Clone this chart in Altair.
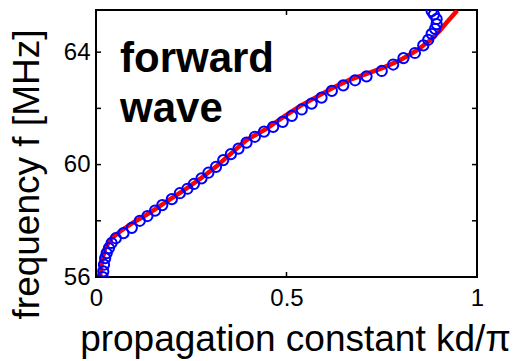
import altair as alt
import pandas as pd

# measured (blue circles)
meas_k = [0.0175, 0.019, 0.021, 0.024, 0.028, 0.034, 0.041, 0.052, 0.072, 0.094,
          0.115, 0.135, 0.155, 0.174, 0.199, 0.22, 0.24, 0.257, 0.277, 0.295,
          0.315, 0.334, 0.354, 0.374, 0.395, 0.417, 0.441, 0.465, 0.49, 0.514,
          0.54, 0.566, 0.592, 0.619, 0.649, 0.68, 0.71, 0.75, 0.78, 0.807,
          0.837, 0.859, 0.872, 0.881, 0.89, 0.894, 0.894, 0.887, 0.881]
meas_f = [56.0, 56.2, 56.44, 56.67, 56.85, 57.03, 57.21, 57.38, 57.56, 57.75,
          58.0, 58.17, 58.36, 58.56, 58.77, 58.98, 59.14, 59.31, 59.51, 59.71,
          59.92, 60.16, 60.37, 60.57, 60.78, 60.99, 61.17, 61.34, 61.52, 61.73,
          61.96, 62.17, 62.38, 62.62, 62.82, 63.0, 63.14, 63.33, 63.56, 63.79,
          63.97, 64.24, 64.44, 64.65, 64.83, 65.0, 65.18, 65.34, 65.46]

# theory (red curve)
theo_k = [0.0105, 0.015, 0.024, 0.041, 0.063, 0.098, 0.142, 0.185, 0.229, 0.273,
          0.317, 0.36, 0.395, 0.448, 0.492, 0.535, 0.579, 0.623, 0.667, 0.71,
          0.754, 0.798, 0.842, 0.877, 0.903, 0.925, 0.948]
theo_f = [56.0, 56.5, 57.03, 57.38, 57.62, 57.94, 58.29, 58.68, 59.07, 59.49,
          59.95, 60.46, 60.87, 61.28, 61.7, 62.08, 62.41, 62.74, 63.02, 63.23,
          63.45, 63.71, 64.06, 64.42, 64.77, 65.13, 65.48]

x_ticks = [0, 0.5, 1]
y_ticks = [56, 58, 60, 62, 64]
y_labels = [56, 60, 64]
ann_text = ["forward", "wave"]
ann_x = [0.063, 0.063]
ann_y = [63.28, 61.5]

FONT = "Liberation Sans"
W, H = 381, 267

meas = pd.DataFrame({"k": meas_k, "f": meas_f})
theo = pd.DataFrame({"k": theo_k, "f": theo_f, "i": list(range(len(theo_k)))})
xt = pd.DataFrame({"k": x_ticks})
yt = pd.DataFrame({"f": y_ticks})
ann = pd.DataFrame({"t": ann_text, "k": ann_x, "f": ann_y})

xs = alt.Scale(domain=[0, 1], nice=False, zero=False)
ys = alt.Scale(domain=[56, 65.5], nice=False, zero=False)

xaxis = alt.Axis(values=x_ticks, format="g", ticks=False, domain=False, grid=False,
                 labelFont=FONT, labelFontSize=24, labelColor="black", labelPadding=9,
                 labelFlush=False,
                 title="propagation constant kd/π", titleFont=FONT, titleFontSize=37,
                 titleFontWeight="normal", titleColor="black",
                 titleX=199, titleY=73, titleBaseline="alphabetic", titleAnchor="middle")
yaxis = alt.Axis(values=y_labels, format="d", ticks=False, domain=False, grid=False,
                 labelFont=FONT, labelFontSize=24, labelColor="black", labelPadding=6,
                 labelFlush=False,
                 title="frequency f [MHz]", titleFont=FONT, titleFontSize=37,
                 titleFontWeight="normal", titleColor="black", titleAngle=-90,
                 titleX=-58, titleY=164, titleBaseline="alphabetic", titleAlign="center")

line = alt.Chart(theo).mark_line(color="#ff0000", strokeWidth=4.5, clip=True).encode(
    x=alt.X("k:Q", scale=xs, axis=xaxis),
    y=alt.Y("f:Q", scale=ys, axis=yaxis),
    order="i:Q",
)
pts = alt.Chart(meas).mark_point(shape="circle", filled=False, color="#0000ff",
                                  size=105, strokeWidth=2, opacity=1, clip=True).encode(
    x=alt.X("k:Q", scale=xs),
    y=alt.Y("f:Q", scale=ys),
)
txt = alt.Chart(ann).mark_text(font=FONT, fontSize=42, fontWeight="bold", align="left",
                               baseline="alphabetic", color="black").encode(
    x=alt.X("k:Q", scale=xs),
    y=alt.Y("f:Q", scale=ys),
    text="t:N",
)
tb = alt.Chart(xt).mark_rule(color="black", strokeWidth=1.5).encode(
    x=alt.X("k:Q", scale=xs), y=alt.value(H), y2=alt.value(H - 5))
tt = alt.Chart(xt).mark_rule(color="black", strokeWidth=1.5).encode(
    x=alt.X("k:Q", scale=xs), y=alt.value(0), y2=alt.value(5))
tl = alt.Chart(yt).mark_rule(color="black", strokeWidth=1.5).encode(
    y=alt.Y("f:Q", scale=ys), x=alt.value(0), x2=alt.value(5))
tr = alt.Chart(yt).mark_rule(color="black", strokeWidth=1.5).encode(
    y=alt.Y("f:Q", scale=ys), x=alt.value(W), x2=alt.value(W - 5))

chart = alt.layer(line, pts, txt, tb, tt, tl, tr).properties(
    width=W, height=H, autosize="none",
    padding={"left": 96, "top": 10, "right": 37, "bottom": 84},
    background="white",
).configure_view(stroke="black", strokeWidth=2)

chart.save("out.html", embed_options={"renderer": "svg", "actions": False})
